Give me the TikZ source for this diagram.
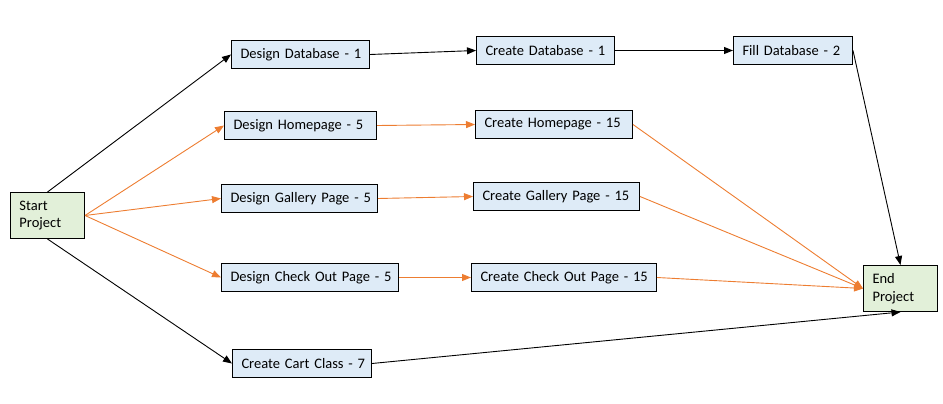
\documentclass[tikz,border=0pt]{standalone}
\usepackage{fontspec}
\setmainfont{Carlito}
\usetikzlibrary{arrows.meta}
\definecolor{boxblue}{HTML}{DEEBF7}
\definecolor{boxgreen}{HTML}{E2F0D9}
\definecolor{orng}{HTML}{ED7D31}
\hbadness=10000 \hfuzz=100pt
\tikzset{
  box/.style={draw=black, line width=1pt, fill=boxblue, rectangle, inner xsep=9pt, inner ysep=0pt,
    minimum height=28pt, align=left, anchor=north west, font=\fontsize{14.5}{17.5}\selectfont},
  endbox/.style={box, fill=boxgreen, minimum height=46pt},
  blk/.style={draw=black, line width=0.9pt, -{Triangle[length=9pt,width=7pt]}},
  org/.style={draw=orng, line width=0.9pt, -{Triangle[length=9pt,width=7pt]}}
}
\begin{document}
\begin{tikzpicture}[x=1pt,y=-1pt]
\useasboundingbox (0,0) rectangle (943,404);
\node[endbox, text width=56pt] (sp) at (10,192) {Start\\Project};
\node[box, text width=120pt] (dd) at (231,40) {\mbox{Design Database - 1}};
\node[box, text width=134pt] (dh) at (224,111) {\mbox{Design Homepage - 5}};
\node[box, text width=138pt] (dg) at (221,184) {\mbox{Design Gallery Page - 5}};
\node[box, text width=159pt] (dc) at (221,263) {\mbox{Design Check Out Page - 5}};
\node[box, text width=121pt] (cc) at (232,349) {\mbox{Create Cart Class - 7}};
\node[box, text width=120pt] (cd) at (476,36) {\mbox{Create Database - 1}};
\node[box, text width=139pt] (ch) at (475,110) {\mbox{Create Homepage - 15}};
\node[box, text width=148pt] (cg) at (473,182) {\mbox{Create Gallery Page - 15}};
\node[box, text width=167pt] (cco) at (471,263) {\mbox{Create Check Out Page - 15}};
\node[box, text width=101pt] (fd) at (733,36) {\mbox{Fill Database - 2}};
\node[endbox, text width=56pt] (ep) at (863,265) {End\\Project};
% connectors
\draw[blk] (sp.north) -- (dd.west);
\draw[org] (sp.east) -- (dh.west);
\draw[org] (sp.east) -- (dg.west);
\draw[org] (sp.east) -- (dc.west);
\draw[blk] (sp.south) -- (cc.west);
\draw[blk] (dd.east) -- (cd.west);
\draw[org] (dh.east) -- (ch.west);
\draw[org] (dg.east) -- (cg.west);
\draw[org] (dc.east) -- (cco.west);
\draw[blk] (cd.east) -- (fd.west);
\draw[blk] (fd.east) -- (ep.north);
\draw[org] (ch.east) -- (ep.west);
\draw[org] (cg.east) -- (ep.west);
\draw[org] (cco.east) -- (ep.west);
\draw[blk] (cc.east) -- (ep.south);
\end{tikzpicture}
\end{document}
